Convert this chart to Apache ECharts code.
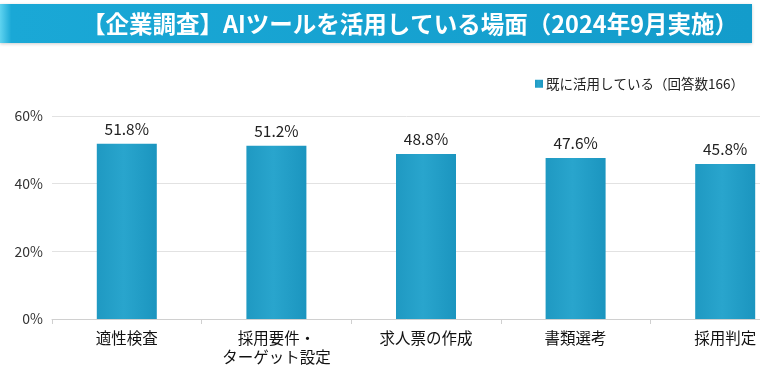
<!DOCTYPE html>
<html><head><meta charset="utf-8">
<script src="https://cdn.jsdelivr.net/npm/echarts@6/dist/echarts.min.js"></script>
<style>html,body{margin:0;padding:0;background:#fff}#c{width:760px;height:369px}</style>
</head><body><div id="c"></div>
<script>
const titleText = '【企業調査】AIツールを活用している場面（2024年9月実施）';
const seriesName = '既に活用している（回答数166）';
const categories = ['適性検査', '採用要件・\nターゲット設定', '求人票の作成', '書類選考', '採用判定'];
const values = [51.8, 51.2, 48.8, 47.6, 45.8];
const yTicks = [0, 20, 40, 60];

const chart = echarts.init(document.getElementById('c'));
const font = '"Noto Sans CJK JP", "Noto Sans", sans-serif';
chart.setOption({
  animation: false,
  textStyle: { fontFamily: font },
  graphic: [{
    type: 'rect', left: 0, top: 4, z: 0,
    shape: { width: 752, height: 39 },
    style: {
      fill: new echarts.graphic.LinearGradient(0, 0, 1, 0, [
        { offset: 0, color: '#5fd3f0' },
        { offset: 0.015, color: '#1aa8d6' },
        { offset: 1, color: '#139ccb' }
      ]),
      shadowColor: 'rgba(0,0,0,0.2)', shadowBlur: 3, shadowOffsetY: 1
    }
  }],
  title: {
    text: titleText, left: 405, top: 7, textAlign: 'center',
    textStyle: { color: '#fff', fontSize: 23.5, fontWeight: 'bold', fontFamily: font }
  },
  legend: {
    data: [seriesName], right: 11, top: 72, itemWidth: 8, itemHeight: 8, itemGap: 4,
    icon: 'rect',
    textStyle: { fontSize: 13.5, color: '#222', fontFamily: font, padding: [0, 0, 0, -2] }
  },
  grid: { left: 52, top: 116, width: 748, height: 203, containLabel: false, outerBoundsMode: 'none' },
  xAxis: {
    type: 'category', data: categories,
    axisLine: { lineStyle: { color: '#d0d0d0' } },
    axisTick: { show: true, alignWithLabel: false, length: 5, lineStyle: { color: '#d0d0d0' } },
    axisLabel: { fontSize: 15.5, color: '#111', margin: 10, lineHeight: 19, fontFamily: font }
  },
  yAxis: {
    type: 'value', min: 0, max: 60, interval: 20,
    axisLine: { show: false }, axisTick: { show: false },
    axisLabel: { formatter: v => yTicks.includes(v) ? v + '%' : '', fontSize: 14, color: '#333', margin: 9, fontFamily: font },
    splitLine: { lineStyle: { color: '#e2e2e2', width: 1 } }
  },
  series: [{
    name: seriesName, type: 'bar', data: values, barWidth: 60,
    itemStyle: {
      color: new echarts.graphic.LinearGradient(0, 0, 1, 0, [
        { offset: 0, color: '#1f99c2' },
        { offset: 0.45, color: '#29a5cd' },
        { offset: 1, color: '#1b95bf' }
      ])
    },
    label: { show: true, position: 'top', distance: 7, formatter: p => p.value.toFixed(1) + '%', fontSize: 15.5, color: '#222', fontFamily: font }
  }]
});
</script></body></html>
